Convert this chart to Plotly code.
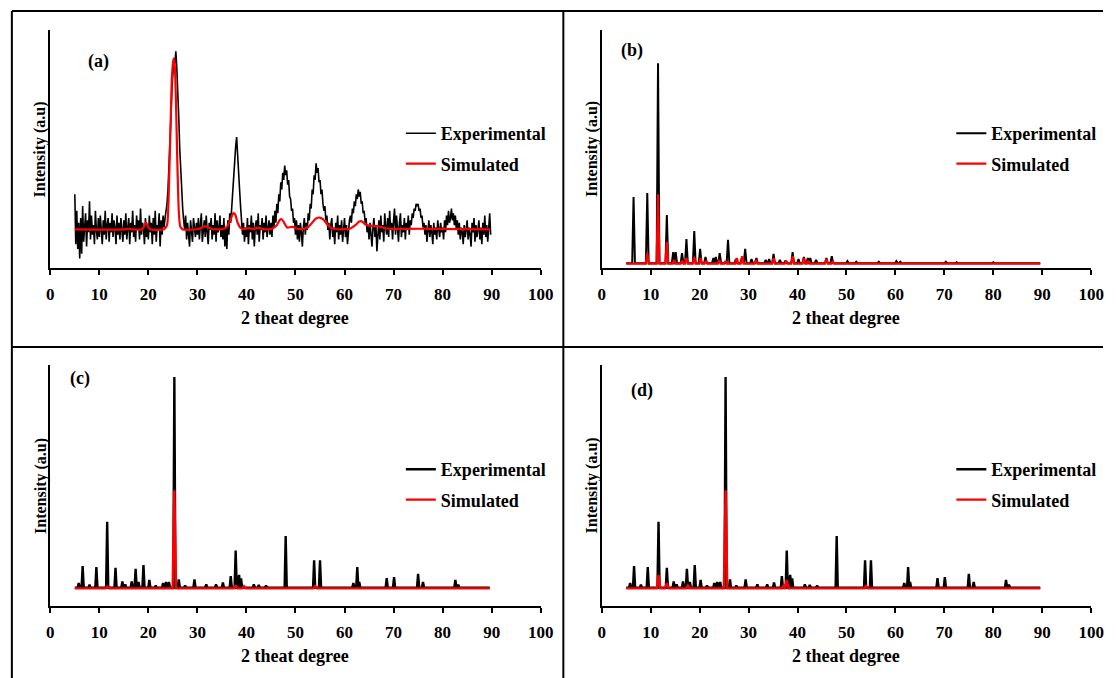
import plotly.graph_objects as go

W, H = 1116, 678
FONT = "Liberation Serif"

# ---------------- panel (a): noisy pattern on a 0.2 degree grid ----------------
a_exp_start = 5.0
a_exp_step = 0.2
a_exp_y = [
    31, 10, 24, 8, 19, 4, 21, 6, 26, 11, 17, 23, 9, 20, 15, 28, 12, 22, 14, 18, 10, 24, 16, 12, 21,    # 5
    13, 22, 16, 10, 20, 14, 24, 12, 18, 21, 11, 19, 15, 23, 13, 20, 17, 10, 22, 14, 19, 12, 21, 16, 11,  # 10
    20, 14, 23, 12, 17, 21, 10, 19, 15, 24, 13, 18, 11, 22, 16, 20, 12, 25, 14, 19, 17, 10, 21, 13, 18,  # 15
    12, 22, 15, 19, 10, 21, 14, 24, 11, 18, 16, 23, 9, 20, 14, 22, 17, 21, 24, 27, 33, 41, 52, 63, 75,   # 20
    83, 88, 86, 91, 84, 76, 63, 50, 39, 30, 25, 20, 16, 22, 12, 19, 14, 9, 20, 15, 11, 21, 17, 13, 19,   # 25
    14, 21, 12, 18, 23, 11, 17, 20, 13, 22, 15, 10, 19, 16, 21, 12, 18, 14, 23, 11, 20, 15, 17, 22, 13,  # 30
    18, 12, 21, 9, 17, 8, 20, 14, 23, 19, 26, 31, 37, 44, 51, 55, 49, 42, 33, 26, 20, 14, 19, 11, 17,    # 35
    13, 21, 10, 18, 15, 22, 12, 19, 9, 17, 20, 14, 23, 11, 18, 16, 21, 12, 19, 15, 22, 13, 17, 20, 14,   # 40
    19, 13, 22, 17, 24, 19, 27, 23, 31, 28, 36, 33, 40, 37, 43, 39, 41, 35, 37, 30, 29, 24, 25, 19, 21,  # 45
    14, 20, 12, 18, 11, 19, 15, 9, 17, 21, 14, 19, 16, 23, 20, 27, 25, 33, 31, 39, 37, 44, 40, 42, 36,   # 50
    37, 31, 33, 27, 24, 26, 20, 22, 16, 19, 12, 18, 21, 13, 17, 10, 19, 15, 22, 12, 18, 14, 20, 11, 17,  # 55
    21, 13, 18, 10, 16, 20, 22, 19, 25, 23, 28, 26, 31, 29, 33, 30, 32, 27, 28, 23, 24, 19, 21, 15, 18,  # 60
    12, 19, 15, 9, 17, 21, 13, 18, 7, 16, 20, 12, 22, 15, 18, 11, 23, 17, 14, 21, 13, 24, 16, 19, 12,    # 65
    20, 25, 14, 22, 17, 11, 19, 23, 13, 18, 15, 21, 12, 19, 16, 22, 14, 20, 18, 23, 21, 25, 24, 27, 26,  # 70
    27, 24, 25, 21, 22, 17, 19, 14, 18, 11, 16, 20, 13, 18, 15, 10, 19, 14, 17, 12, 20, 16, 13, 19, 15,  # 75
    17, 12, 20, 15, 22, 18, 24, 19, 21, 25, 20, 23, 18, 22, 16, 20, 14, 19, 12, 17, 15, 10, 18, 13, 16,  # 80
    20, 12, 17, 14, 9, 19, 15, 21, 11, 18, 13, 16, 20, 12, 17, 10, 19, 14, 22, 13, 18, 11, 16, 23, 14,   # 85
]
a_exp_x = [round(a_exp_start + i * a_exp_step, 2) for i in range(len(a_exp_y))]

a_sim_x = [5, 15, 16, 17, 18.8, 19.2, 19.5, 19.8, 20.3, 23.2, 23.8, 24.2, 24.5, 24.8,
           25.1, 25.35, 25.6, 25.9, 26.2, 26.5, 27, 30, 31, 31.5, 32, 33, 35, 36, 36.7,
           37.3, 37.7, 38.2, 38.8, 39.5, 40.5, 41.3, 42.5, 43.5, 45, 46.2, 46.8, 47.2,
           47.7, 48.3, 49, 49.5, 50.3, 51.5, 52.5, 53.3, 54.2, 54.9, 55.6, 56.3, 57, 58,
           60, 61.2, 62.2, 63, 63.5, 64.2, 65, 66.5, 67.5, 68.5, 70, 75, 80, 85, 89.6]
a_sim_y = [16.2, 16.2, 16.5, 16.2, 16.3, 18.0, 19.2, 18.0, 16.3, 16.3, 18, 35, 58, 80,
           88, 86, 72, 45, 24, 17.5, 16.2, 16.3, 17, 17.6, 17.2, 16.4, 16.3, 17.2, 20,
           23, 22.5, 19, 16.8, 16.3, 16.8, 16.4, 16.9, 16.3, 16.4, 18, 20.2, 20.5,
           19, 17, 17.2, 17.3, 16.5, 16.4, 17, 18.8, 20.8, 21.2, 20.5, 18.8, 17.2, 16.4,
           16.3, 16.6, 18, 19.5, 19.6, 18.4, 17.8, 17.6, 17.2, 16.6, 16.4, 16.5, 16.4, 16.3, 16.2]

# ---------------- panel (b): reflection positions and heights ----------------
b_exp_pos = [6.5, 9.3, 11.5, 13.3, 14.6, 15.1, 16.4, 17.3, 18.9, 20.1, 21.2, 22.8, 23.3,
             24.1, 25.8, 27.4, 28.6, 29.3, 30.6, 31.6, 33.5, 34.2, 35.1, 36.4, 37.5,
             39.0, 40.2, 41.3, 42.1, 42.6, 43.8, 45.9, 47.0, 50.2, 52.0, 56.6, 60.2,
             61.0, 70.3, 72.5, 80.0]
b_exp_h = [29.8, 31.5, 86, 22.3, 6.7, 6.7, 6.3, 12.2, 15.5, 8, 4.6, 4.2, 4.6,
           6.3, 11.8, 3.8, 4.2, 8, 3.8, 4.2, 3.4, 3.8, 5.9, 3.4, 3.0,
           6.7, 3.8, 4.6, 4.2, 4.2, 3.4, 4.2, 5.0, 2.9, 2.6, 2.6, 2.9,
           2.6, 2.6, 2.4, 2.4]
b_sim_pos = [9.3, 11.5, 13.3, 14.8, 16.4, 17.3, 18.9, 20.2, 21.3, 24.0, 25.3, 27.6, 28.7,
             31.5, 35.1, 37.7, 39.0, 41.3, 42.2, 45.9, 47.2]
b_sim_h = [6.3, 31, 11, 3.4, 3.0, 4.2, 4.6, 4.2, 3.0, 3.4, 2.9, 4.2, 5.0,
           3.4, 4.2, 3.0, 5.0, 4.2, 3.0, 3.8, 2.9]

# ---------------- panels (c) and (d) ----------------
cd_exp_pos = [5.8, 6.6, 8.0, 9.4, 11.6, 13.3, 14.7, 15.3, 16.6, 17.4, 18.0, 19.0, 20.2,
              21.5, 23.0, 23.6, 24.2, 25.3, 26.2, 27.5, 29.4, 31.8, 33.8, 35.2, 36.8,
              37.8, 38.5, 38.9, 41.5, 42.5, 44.0, 48.0, 53.8, 55.0, 61.8, 62.6, 63.0,
              68.6, 70.1, 75.0, 76.0, 82.6, 83.2]
cd_exp_h = [9.5, 16.6, 8.8, 16.2, 35, 15.8, 10.2, 9, 10.2, 15.4, 10, 17, 10.8,
            8.5, 9.5, 10, 10, 95, 11, 8.5, 11, 9, 9, 9.8, 12.4,
            23, 12.9, 11.5, 9, 8.7, 8.5, 29, 19, 19, 9.5, 16.2, 10,
            11.6, 12, 13.3, 10, 10.8, 8.8]
c_sim_pos = [11.6, 25.3, 37.8, 39.5, 54.0]
c_sim_h = [8.0, 48, 8.6, 8.2, 8.2]
d_sim_pos = [11.6, 13.3, 17.6, 25.3, 37.2, 37.8, 54.0]
d_sim_h = [12.9, 9.5, 8.5, 48, 8.5, 10.8, 8.3]

x_ticks = [0, 10, 20, 30, 40, 50, 60, 70, 80, 90, 100]
panel_labels = ["(a)", "(b)", "(c)", "(d)"]
x_title = "2 theat degree"
y_title = "Intensity (a.u)"
series_names = ["Experimental", "Simulated"]


def stick_profile(pos, heights, base, half, x0=5.0, x1=89.6):
    """Turn a list of reflections into a polyline with narrow triangular peaks."""
    xs, ys = [x0], [base]
    for p, h in sorted(zip(pos, heights)):
        xs += [p - half, p, p + half]
        ys += [base, h, base]
    xs.append(x1)
    ys.append(base)
    return xs, ys


def px(x):
    return x / W


def py(y):
    return 1 - y / H


# plot-area boxes of the four panels, in pixels (left, right, top, bottom)
boxes = {
    1: (47, 545, 30, 268),
    2: (607, 1104, 30, 268),
    3: (47, 545, 365, 606),
    4: (607, 1104, 365, 606),
}

fig = go.Figure()

BLACK = "#000000"
RED = "#ff0000"

traces = []
# (a)
traces.append((1, a_exp_x, a_exp_y, BLACK, 1.6, 0, "linear"))
traces.append((1, a_sim_x, a_sim_y, RED, 2.2, 1, "spline"))
# (b)
bx, by = stick_profile(b_exp_pos, b_exp_h, 2.0, 0.28)
traces.append((2, bx, by, BLACK, 2.0, 0, "linear"))
bsx, bsy = stick_profile(b_sim_pos, b_sim_h, 1.8, 0.3)
traces.append((2, bsx, bsy, RED, 2.2, 1, "linear"))
# (c)
cx, cy = stick_profile(cd_exp_pos, cd_exp_h, 7.6, 0.22)
traces.append((3, cx, cy, BLACK, 2.4, 0, "linear"))
csx, csy = stick_profile(c_sim_pos, c_sim_h, 7.3, 0.35)
traces.append((3, csx, csy, RED, 2.4, 1, "linear"))
# (d)
dx, dy = stick_profile(cd_exp_pos, cd_exp_h, 7.6, 0.22)
traces.append((4, dx, dy, BLACK, 2.4, 0, "linear"))
dsx, dsy = stick_profile(d_sim_pos, d_sim_h, 7.3, 0.35)
traces.append((4, dsx, dsy, RED, 2.4, 1, "linear"))

for k, xs, ys, col, lw, si, shape in traces:
    suffix = "" if k == 1 else str(k)
    line = dict(color=col, width=lw, shape=shape)
    if shape == "spline":
        line["smoothing"] = 0.6
    fig.add_trace(go.Scatter(
        x=xs, y=ys, mode="lines", line=line,
        name=series_names[si],
        xaxis="x" + suffix, yaxis="y" + suffix,
        legend="legend" + suffix,
        legendgroup=f"g{k}{si}",
    ))

tick_font = dict(family=FONT, size=17, color=BLACK, weight="bold")
layout = dict(
    width=W, height=H, autosize=False,
    margin=dict(l=0, r=0, t=0, b=0),
    paper_bgcolor="white", plot_bgcolor="white",
    showlegend=True,
)

legend_pos = {1: (403, 115), 2: (962, 115), 3: (403, 451), 4: (962, 451)}

annotations = []
shapes = []
label_pos = {1: (96, 62), 2: (638, 50), 3: (77, 378), 4: (648, 390)}

for k, (l, r, t, b) in boxes.items():
    suffix = "" if k == 1 else str(k)
    layout["xaxis" + suffix] = dict(
        domain=[px(l), px(r)], range=[0, 100], anchor="y" + suffix,
        tickvals=x_ticks, ticktext=[str(v) for v in x_ticks],
        ticks="outside", ticklen=5, tickwidth=1.5, tickcolor=BLACK,
        showline=True, linecolor=BLACK, linewidth=2,
        showgrid=False, zeroline=False, tickfont=tick_font,
        ticklabelstandoff=5, fixedrange=True,
    )
    layout["yaxis" + suffix] = dict(
        domain=[py(b), py(t)], range=[0, 100], anchor="x" + suffix,
        showline=True, linecolor=BLACK, linewidth=2,
        showticklabels=False, ticks="", showgrid=False, zeroline=False,
        fixedrange=True,
    )
    lx, ly = legend_pos[k]
    layout["legend" + suffix] = dict(
        x=px(lx), y=py(ly), xanchor="left", yanchor="top",
        font=dict(family=FONT, size=18, color=BLACK, weight="bold"),
        bgcolor="rgba(0,0,0,0)", borderwidth=0,
        itemwidth=30, tracegroupgap=4,
    )
    # axis titles
    annotations.append(dict(
        x=px((l + r) / 2), y=py(b + 50), xref="paper", yref="paper",
        text=x_title, showarrow=False, xanchor="center", yanchor="middle",
        font=dict(family=FONT, size=18, color=BLACK, weight="bold"),
    ))
    annotations.append(dict(
        x=px(l - 10), y=py((t + b) / 2), xref="paper", yref="paper",
        text=y_title, showarrow=False, xanchor="center", yanchor="middle",
        textangle=-90,
        font=dict(family=FONT, size=16, color=BLACK, weight="bold"),
    ))
    ax_, ay_ = label_pos[k]
    annotations.append(dict(
        x=px(ax_), y=py(ay_), xref="paper", yref="paper",
        text=panel_labels[k - 1], showarrow=False, xanchor="center", yanchor="middle",
        font=dict(family=FONT, size=18, color=BLACK, weight="bold"),
    ))

# frame around and between the four panels
frame = [
    (8, 11, 1116, 11), (8, 11, 8, 678),
    (568, 11, 568, 678), (8, 347, 1116, 347),
]
for x0, y0, x1, y1 in frame:
    shapes.append(dict(
        type="line", xref="paper", yref="paper",
        x0=px(x0), y0=py(y0), x1=px(x1), y1=py(y1),
        line=dict(color=BLACK, width=2),
    ))

layout["annotations"] = annotations
layout["shapes"] = shapes
fig.update_layout(**layout)

fig.write_html("out.html")
